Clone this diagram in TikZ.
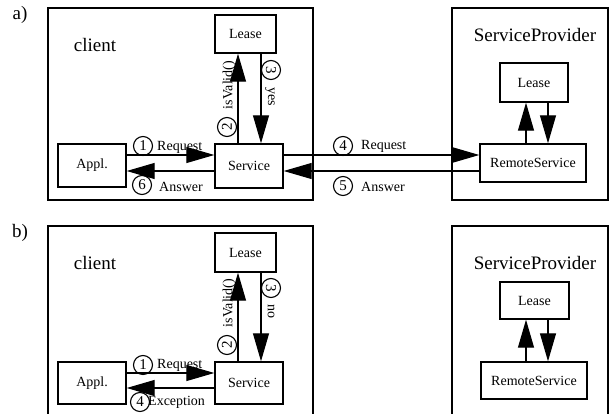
\documentclass[tikz,border=0pt]{standalone}
\usepackage{fontspec}
\setmainfont{Liberation Serif}
\usetikzlibrary{arrows.meta}
\begin{document}
\begin{tikzpicture}[x=1pt,y=-1pt,
  frame/.style={draw, line width=1.4pt, inner sep=0pt},
  box/.style={draw, line width=1.4pt, inner sep=0pt, font=\fontsize{14}{16}\selectfont},
  big/.style={font=\fontsize{19}{22}\selectfont, inner sep=0pt},
  msg/.style={font=\fontsize{14}{16}\selectfont, inner sep=0pt, anchor=west},
  num/.style={draw, circle, line width=1.1pt, minimum size=19pt, inner sep=0pt, font=\fontsize{15}{17}\selectfont},
  flow/.style={line width=1.2pt, -{Triangle[length=28pt,width=16pt]}}]
\clip (0,0) rectangle (610,414);

% ---------- a) lease still valid ----------
\node[big] (tagA) at (20,15) {a)};
\node[frame, minimum width=265pt, minimum height=192pt] (clientA) at (180.5,104) {};
\node[frame, minimum width=156pt, minimum height=192pt] (providerA) at (530,104) {};
\node[big] (clientLblA) at (95,45) {client};
\node[big] (providerLblA) at (535,35) {ServiceProvider};

\node[box, minimum width=61pt, minimum height=38pt] (leaseA) at (245.5,34) {Lease};
\node[box, minimum width=68pt, minimum height=43pt] (applA) at (92,165.5) {Appl.};
\node[box, minimum width=68pt, minimum height=44pt] (servA) at (249,166) {Service};
\node[box, minimum width=68pt, minimum height=39pt] (spLeaseA) at (534,82.5) {Lease};
\node[box, minimum width=106pt, minimum height=38pt] (rsA) at (533,163) {RemoteService};

\draw[flow] (applA.east |- 0,155) -- (servA.west |- 0,155);
\draw[flow] (servA.west |- 0,171) -- (applA.east |- 0,171);
\draw[flow] (servA.north -| 238,0) -- (leaseA.south -| 238,0);
\draw[flow] (leaseA.south -| 261,0) -- (servA.north -| 261,0);
\draw[flow] (servA.east |- 0,155) -- (rsA.west |- 0,155);
\draw[flow] (rsA.west |- 0,171) -- (servA.east |- 0,171);
\draw[flow] (rsA.north -| 526,0) -- (spLeaseA.south -| 526,0);
\draw[flow] (spLeaseA.south -| 548,0) -- (rsA.north -| 548,0);

\node[num] (n1A) at (143,146) {1};
\node[msg] (reqA) at (157,147) {Request};
\node[num] (n6A) at (142,185) {6};
\node[msg] (ansA) at (159,187) {Answer};
\node[num, rotate=90] (n2A) at (227,127) {2};
\node[msg, rotate=90, anchor=center] (isvA) at (229,85) {isValid()};
\node[num, rotate=-90] (n3A) at (271,70) {3};
\node[msg, rotate=-90, anchor=center] (yesA) at (270,97) {yes};
\node[num] (n4A) at (343,146) {4};
\node[msg] (req4A) at (361,146) {Request};
\node[num] (n5A) at (343,186) {5};
\node[msg] (ans5A) at (361,187) {Answer};

% ---------- b) lease expired ----------
\node[big] (tagB) at (20,233) {b)};
\node[frame, minimum width=265pt, minimum height=192pt] (clientB) at (180.5,322) {};
\node[frame, minimum width=156pt, minimum height=192pt] (providerB) at (530,322) {};
\node[big] (clientLblB) at (95,263) {client};
\node[big] (providerLblB) at (535,263) {ServiceProvider};

\node[box, minimum width=61pt, minimum height=39pt] (leaseB) at (245.5,252.5) {Lease};
\node[box, minimum width=68pt, minimum height=42pt] (applB) at (92,383) {Appl.};
\node[box, minimum width=68pt, minimum height=42pt] (servB) at (249,383) {Service};
\node[box, minimum width=69pt, minimum height=37pt] (spLeaseB) at (534.5,300.5) {Lease};
\node[box, minimum width=106pt, minimum height=37pt] (rsB) at (534,380.5) {RemoteService};

\draw[flow] (applB.east |- 0,373) -- (servB.west |- 0,373);
\draw[flow] (servB.west |- 0,388) -- (applB.east |- 0,388);
\draw[flow] (servB.north -| 238,0) -- (leaseB.south -| 238,0);
\draw[flow] (leaseB.south -| 261,0) -- (servB.north -| 261,0);
\draw[flow] (rsB.north -| 526,0) -- (spLeaseB.south -| 526,0);
\draw[flow] (spLeaseB.south -| 548,0) -- (rsB.north -| 548,0);

\node[num] (n1B) at (143,365) {1};
\node[msg] (reqB) at (157,365) {Request};
\node[num] (n4B) at (140,402) {4};
\node[msg] (excB) at (148,402) {Exception};
\node[num, rotate=90] (n2B) at (227,345) {2};
\node[msg, rotate=90, anchor=center] (isvB) at (229,303) {isValid()};
\node[num, rotate=-90] (n3B) at (271,288) {3};
\node[msg, rotate=-90, anchor=center] (noB) at (271,311) {no};
\end{tikzpicture}
\end{document}
